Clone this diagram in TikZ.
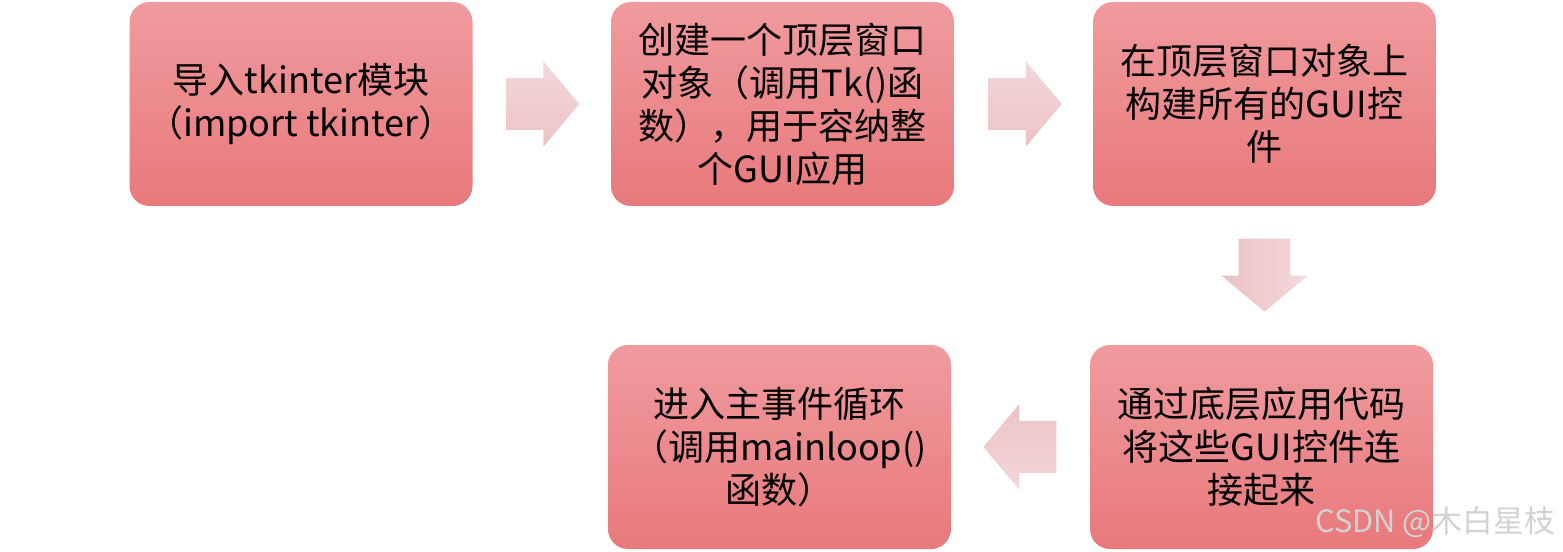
\documentclass[tikz,border=0pt]{standalone}
\usepackage{fontspec}
\setmainfont{Noto Sans CJK SC}
\usetikzlibrary{shapes.arrows,positioning,calc}
\definecolor{boxtop}{HTML}{F09B9E}
\definecolor{boxbot}{HTML}{E8797C}
\definecolor{arrlight}{HTML}{F3D8DA}
\definecolor{arrdark}{HTML}{ECC2C4}

\begin{document}
\begin{tikzpicture}[
    box/.style={rectangle, rounded corners=0.4cm, top color=boxtop, bottom color=boxbot, minimum width=6.86cm, minimum height=4.08cm, align=center, inner sep=0pt, font=\fontsize{20.5}{24.5}\selectfont},
    flow/.style={single arrow, draw=none, inner xsep=0pt, inner ysep=0.51cm, minimum height=1.46cm, single arrow head extend=0.34cm, single arrow tip angle=100},
    flowdown/.style={flow, inner xsep=0.51cm, inner ysep=0pt, shape border rotate=270}
]
    \useasboundingbox (0,0) rectangle (31.26,11.02);

    \node[box] (imp) at (6.02, 8.94) {导入tkinter模块\\（import tkinter）};
    \node[box] (win) at (15.65, 8.94) {创建一个顶层窗口\\对象（调用Tk()函\\数），用于容纳整\\个GUI应用};
    \node[box] (gui) at (25.29, 8.94) {在顶层窗口对象上\\构建所有的GUI控\\件};
    \node[box] (link) at (25.23, 2.08) {通过底层应用代码\\将这些GUI控件连\\接起来};
    \node[box] (loop) at (15.59, 2.08) {进入主事件循环\\（调用mainloop()\\函数）};

    \node[flow, right=0.66cm of imp, anchor=tail, top color=arrlight, bottom color=arrdark] (a1) {};
    \node[flow, right=0.68cm of win, anchor=tail, top color=arrlight, bottom color=arrdark] (a2) {};
    \node[flowdown, below=0.64cm of gui, anchor=tail, left color=arrdark, right color=arrlight] (a3) {};
    \node[flow, shape border rotate=180, left=0.66cm of link, anchor=tail, top color=arrdark, bottom color=arrlight] (a4) {};

    \node[anchor=east, text=gray!35, font=\fontsize{17.5}{20}\selectfont] (mark) at (31.22, 0.58) {CSDN @木白星枝};
\end{tikzpicture}
\end{document}
